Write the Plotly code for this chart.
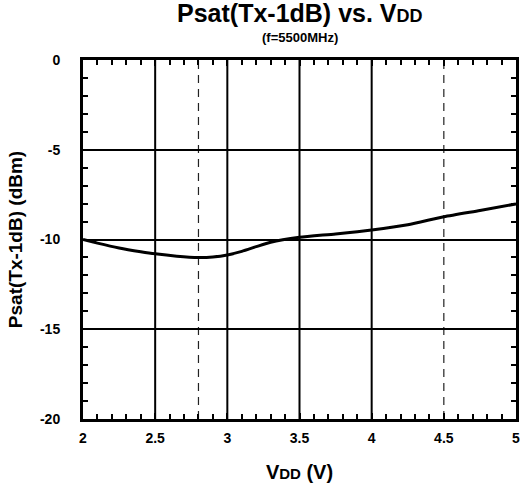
import plotly.graph_objects as go

vdd = [2.0, 2.1, 2.25, 2.4, 2.5, 2.65, 2.8, 2.9, 3.0, 3.1, 3.2, 3.3, 3.5, 3.75, 4.0, 4.25, 4.5, 4.75, 5.0]
psat = [-10.0, -10.2, -10.47, -10.68, -10.8, -10.93, -11.0, -10.97, -10.86, -10.66, -10.4, -10.15, -9.88, -9.69, -9.47, -9.18, -8.73, -8.38, -8.02]

x_ticks = [2, 2.5, 3, 3.5, 4, 4.5, 5]
x_tick_text = ["2", "2.5", "3", "3.5", "4", "4.5", "5"]
y_ticks = [-20, -15, -10, -5, 0]
y_tick_text = ["-20", "-15", "-10", "-5", "0"]
x_grid = [2.5, 3, 3.5, 4]
x_dashed = [2.8, 4.5]

FONT = "Arial, Liberation Sans, sans-serif"

fig = go.Figure()
fig.add_trace(go.Scatter(x=vdd, y=psat, mode="lines",
                         line=dict(color="black", width=3, shape="spline", smoothing=0.6),
                         showlegend=False, hoverinfo="skip"))

shapes = []
for gx in x_grid:
    shapes.append(dict(type="line", xref="x", yref="paper", x0=gx, x1=gx, y0=0, y1=1,
                       line=dict(color="black", width=2), layer="below"))
for dx in x_dashed:
    shapes.append(dict(type="line", xref="x", yref="paper", x0=dx, x1=dx, y0=0, y1=1,
                       line=dict(color="#222222", width=1.2, dash="8px,6px"), layer="below"))

fig.update_layout(
    width=525, height=484,
    margin=dict(l=83, r=9, t=60, b=65, autoexpand=False),
    paper_bgcolor="white", plot_bgcolor="white",
    font=dict(family=FONT, color="black"),
    shapes=shapes,
    annotations=[
        dict(text="<b>Psat(Tx-1dB) vs. V<span style='font-size:18px'>DD</span></b>",
             xref="paper", yref="paper", x=0.5, y=1.13, showarrow=False,
             font=dict(size=25, family=FONT), xanchor="center", yanchor="middle"),
        dict(text="<b>(f=5500MHz)</b>",
             xref="paper", yref="paper", x=0.5, y=1.064, showarrow=False,
             font=dict(size=13, family=FONT), xanchor="center", yanchor="middle"),
    ],
    xaxis=dict(
        range=[2, 5], tickvals=x_ticks, ticktext=x_tick_text, automargin=False,
        showgrid=False, zeroline=False,
        showline=True, linecolor="black", linewidth=3, mirror="allticks",
        ticks="inside", ticklen=6, tickwidth=2, tickcolor="black",
        minor=dict(dtick=0.1, ticks="inside", ticklen=5, tickwidth=2, tickcolor="black"),
        tickfont=dict(size=14, family=FONT, weight="bold"),
        ticklabelstandoff=4,
        title=dict(text="<b>V<span style='font-size:15px'>DD</span> (V)</b>",
                   font=dict(size=20, family=FONT), standoff=21),
    ),
    yaxis=dict(
        range=[-20, 0], tickvals=y_ticks, ticktext=y_tick_text, automargin=False,
        showgrid=True, gridcolor="black", gridwidth=2, zeroline=False,
        showline=True, linecolor="black", linewidth=3, mirror="allticks",
        ticks="inside", ticklen=6, tickwidth=2, tickcolor="black",
        minor=dict(dtick=1, ticks="inside", ticklen=5, tickwidth=2, tickcolor="black"),
        tickfont=dict(size=14, family=FONT, weight="bold"),
        ticklabelstandoff=17,
        title=dict(text="<b>Psat(Tx-1dB) (dBm)</b>", font=dict(size=19, family=FONT), standoff=13),
    ),
)

fig.write_html("out.html",
               config={"displayModeBar": False},
               post_script="document.body.style.margin='0';document.body.style.padding='0';")
